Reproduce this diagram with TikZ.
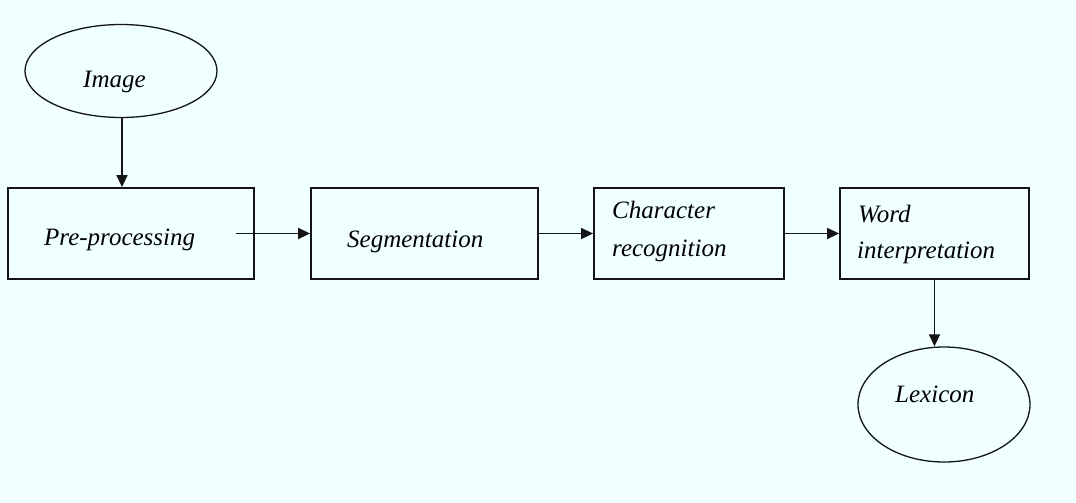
\documentclass[tikz,border=0pt]{standalone}
\usepackage{fontspec}
\setmainfont{Liberation Serif}
\usetikzlibrary{arrows.meta,shapes.geometric}
\definecolor{paper}{RGB}{240,255,255}
\definecolor{ink}{RGB}{20,20,20}
\begin{document}
\begin{tikzpicture}[x=1pt,y=-1pt,
  stepbox/.style={draw=ink,line width=1.8pt,fill=paper,rectangle,inner sep=0pt,
    minimum height=91pt,minimum width=#1},
  oval/.style={draw=ink,line width=1.3pt,fill=paper,ellipse,inner sep=0pt},
  lbl/.style={anchor=base west,inner sep=0pt,text=black,
    font=\fontsize{25}{29}\selectfont\itshape},
  flow/.style={draw=ink,line width=1.5pt,-{Triangle[length=12pt,width=11pt]}}]
  % page background
  \fill[paper] (0,0) rectangle (1076,503);
  \useasboundingbox (0,0) rectangle (1076,503);

  % source and sink ellipses
  \node[oval,minimum width=192pt,minimum height=93pt] (img) at (121,71) {};
  \node[oval,minimum width=172pt,minimum height=115pt] (lex) at (944,404.5) {};

  % processing stages
  \node[stepbox=246pt] (pre)  at (131,233.5) {};
  \node[stepbox=227pt] (seg)  at (424.5,233.5) {};
  \node[stepbox=190pt] (chr)  at (689,233.5) {};
  \node[stepbox=189pt] (word) at (934.5,233.5) {};

  % labels
  \node[lbl] at (83,87) {Image};
  \node[lbl] at (44,245) {Pre-processing};
  \node[lbl] at (347,247) {Segmentation};
  \node[lbl] at (612,218) {Character};
  \node[lbl] at (612,256) {recognition};
  \node[lbl] at (858,222) {Word};
  \node[lbl] at (857,258) {interpretation};
  \node[lbl] at (895,402) {Lexicon};

  % connectors
  \draw[flow] ([xshift=1pt]img.south) -- ([xshift=1pt]img.south |- pre.north);
  \draw[flow] ([xshift=-19pt]pre.east) -- (seg.west);
  \draw[flow] (seg.east) -- (chr.west);
  \draw[flow] (chr.east) -- (word.west);
  \draw[flow] (word.south) -- (word.south |- lex.north);
\end{tikzpicture}
\end{document}
